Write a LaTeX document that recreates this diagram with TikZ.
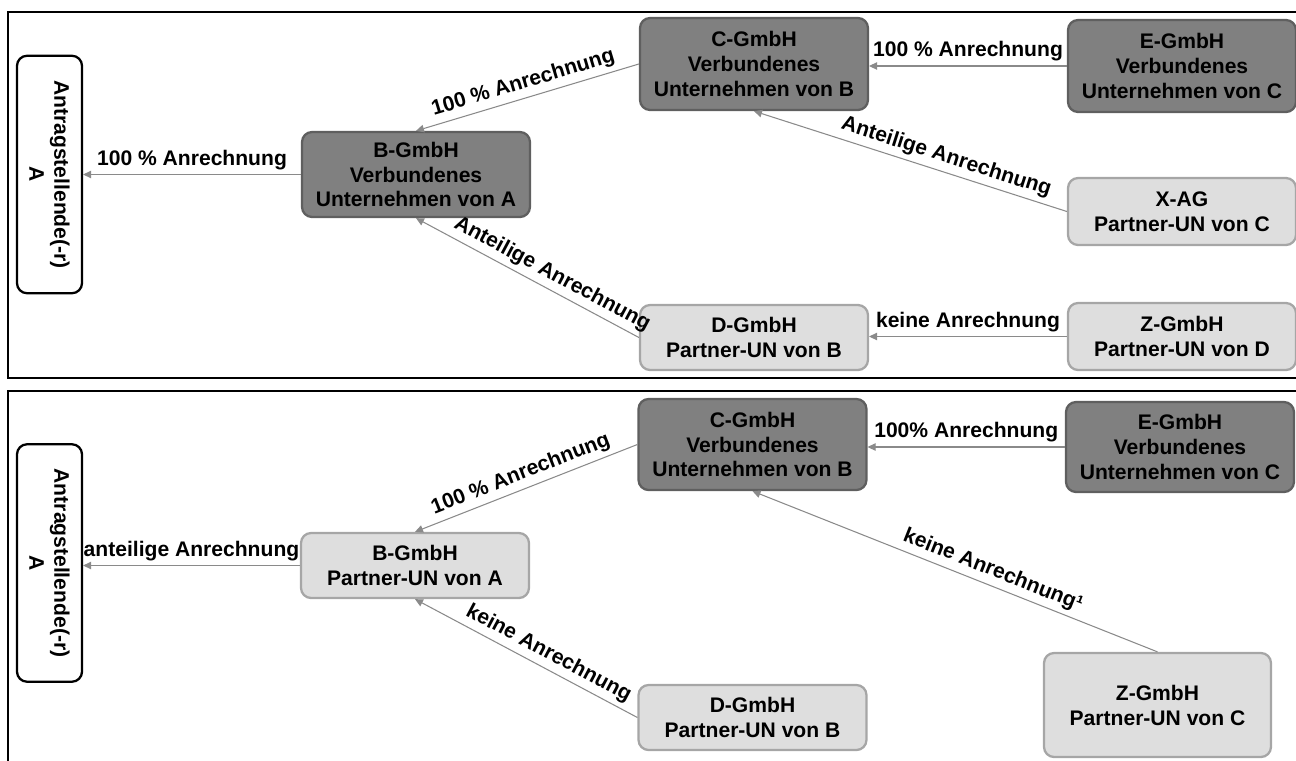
\documentclass[tikz,border=0pt]{standalone}
\usepackage{fontspec}
\setmainfont{Liberation Sans}
\usetikzlibrary{arrows.meta}
\definecolor{dunkel}{HTML}{808080}
\definecolor{dunkelrand}{HTML}{5F5F5F}
\definecolor{hell}{HTML}{DEDEDE}
\definecolor{hellrand}{HTML}{A6A6A6}
\definecolor{pfeilgrau}{HTML}{8A8A8A}
\begin{document}
\begin{tikzpicture}[x=0.02cm, y=-0.02cm,
  box/.style={rounded corners=0.2cm, line width=1.3pt, align=center, inner sep=0pt,
    font=\bfseries\fontsize{12}{14.2}\selectfont},
  verbunden/.style={box, fill=dunkel, draw=dunkelrand, minimum width=4.56cm},
  partner/.style={box, fill=hell, draw=hellrand, minimum width=4.56cm},
  antrag/.style={box, draw=black, fill=white, rotate=-90, minimum width=4.75cm, minimum height=1.3cm},
  pfeil/.style={draw=pfeilgrau, line width=0.6pt, -{Triangle[length=1.6mm,width=1.5mm]}},
  lbl/.style={font=\bfseries\fontsize{12}{14.2}\selectfont, inner sep=2.5pt}]
\useasboundingbox (0,0) rectangle (1296,761);
% Rahmen
\draw[line width=1.1pt] (1296,12) -- (8,12) -- (8,378) -- (1296,378);
\draw[line width=1.1pt] (1296,391) -- (8,391) -- (8,761);
% oben: Knoten
\node[antrag] (A1) at (49.5,174.5) {Antragstellende(-r)\\A};
\node[verbunden, minimum height=1.7cm] (B1) at (416,174.5) {B-GmbH\\Verbundenes\\Unternehmen von A};
\node[verbunden, minimum height=1.84cm] (C1) at (754,64) {C-GmbH\\Verbundenes\\Unternehmen von B};
\node[verbunden, minimum height=1.84cm] (E1) at (1182,66) {E-GmbH\\Verbundenes\\Unternehmen von C};
\node[partner, minimum height=1.34cm] (X1) at (1182,211.5) {X-AG\\Partner-UN von C};
\node[partner, minimum height=1.3cm] (D1) at (754,337.5) {D-GmbH\\Partner-UN von B};
\node[partner, minimum height=1.34cm] (Z1) at (1182,336.5) {Z-GmbH\\Partner-UN von D};
% oben: Pfeile
\draw[pfeil] (B1.west) -- (B1.west -| A1.north) node[lbl, midway, above] (l1) {100 \% Anrechnung};
\draw[pfeil] (C1.west) -- (B1.north) node[lbl, midway, above, sloped] (l2) {100 \% Anrechnung};
\draw[pfeil] (D1.west) -- (B1.south) node[lbl, pos=0.42, above, sloped] (l3) {Anteilige Anrechnung};
\draw[pfeil] (E1.west) -- (E1.west -| C1.east) node[lbl, midway, above] (l4) {100 \% Anrechnung};
\draw[pfeil] (X1.west) -- (C1.south) node[lbl, pos=0.4, above, sloped] (l5) {Anteilige Anrechnung};
\draw[pfeil] (Z1.west) -- (Z1.west -| D1.east) node[lbl, midway, above] (l6) {keine Anrechnung};
% unten: Knoten
\node[antrag] (A2) at (49.5,563) {Antragstellende(-r)\\A};
\node[partner, minimum height=1.3cm] (B2) at (415,565.5) {B-GmbH\\Partner-UN von A};
\node[verbunden, minimum height=1.82cm] (C2) at (752.5,444.5) {C-GmbH\\Verbundenes\\Unternehmen von B};
\node[verbunden, minimum height=1.8cm] (E2) at (1180,447) {E-GmbH\\Verbundenes\\Unternehmen von C};
\node[partner, minimum height=1.3cm] (D2) at (752.5,717.5) {D-GmbH\\Partner-UN von B};
\node[partner, minimum height=2.08cm, minimum width=4.54cm] (Z2) at (1157.5,705) {Z-GmbH\\Partner-UN von C};
% unten: Pfeile
\draw[pfeil] (B2.west) -- (B2.west -| A2.north) node[lbl, midway, above] (m1) {anteilige Anrechnung};
\draw[pfeil] (C2.west) -- (B2.north) node[lbl, midway, above, sloped] (m2) {100 \% Anrechnung};
\draw[pfeil] (D2.west) -- (B2.south) node[lbl, pos=0.43, above, sloped] (m3) {keine Anrechnung};
\draw[pfeil] (E2.west) -- (E2.west -| C2.east) node[lbl, midway, above] (m4) {100\% Anrechnung};
\draw[pfeil] (Z2.north) -- (C2.south) node[lbl, pos=0.42, above, sloped] (m5) {keine Anrechnung¹};
\end{tikzpicture}
\end{document}
